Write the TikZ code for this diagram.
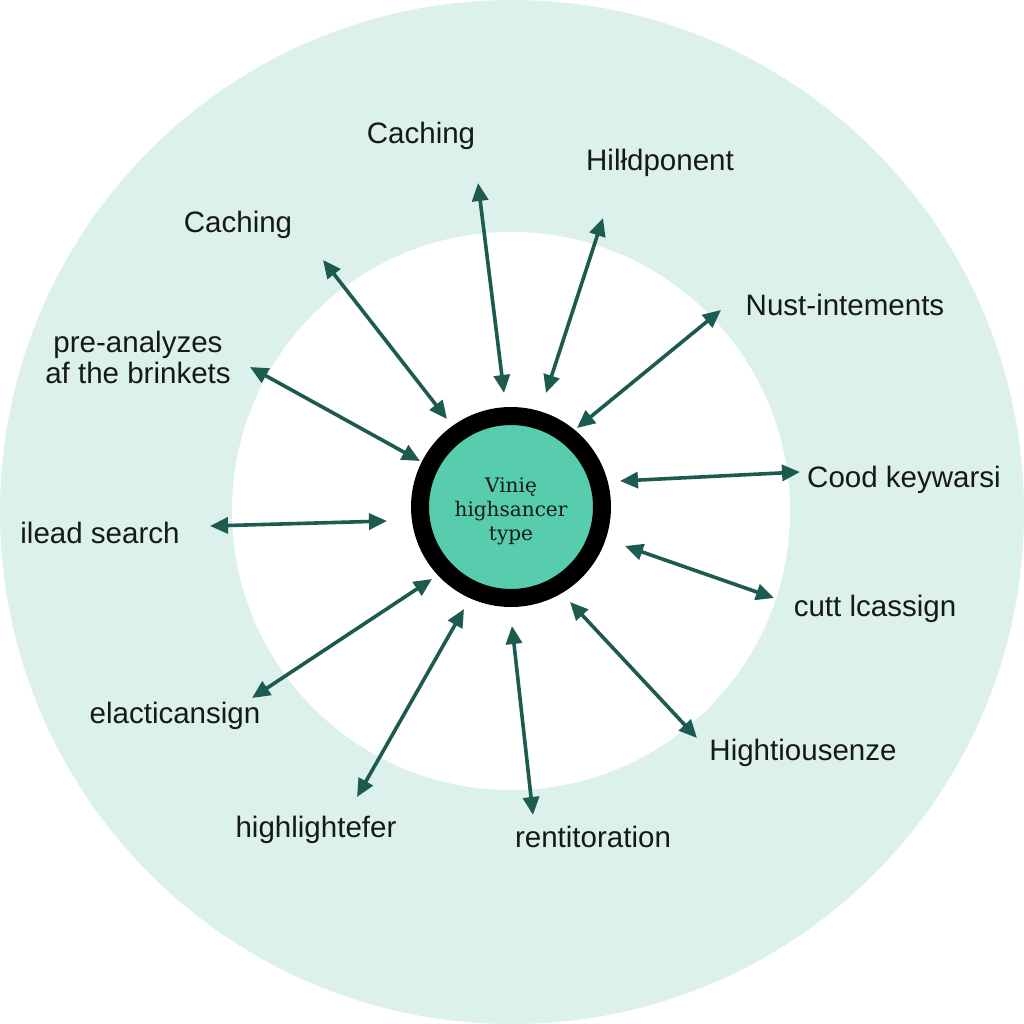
\documentclass[tikz,border=0pt]{standalone}
\usepackage{fontspec}
\setmainfont{Liberation Sans}
\newfontfamily\hubfont{DejaVu Serif}
\usetikzlibrary{arrows.meta}
\definecolor{mint}{HTML}{DCF1EC}
\definecolor{hubteal}{HTML}{58CDAE}
\definecolor{linkcol}{HTML}{1D5A50}
\definecolor{inkcol}{HTML}{151918}
\tikzset{
  lab/.style={font=\fontsize{8.4}{8.8}\selectfont, text=inkcol, align=center, inner sep=0pt},
  link/.style={{Triangle[length=1.8mm,width=1.6mm]}-{Triangle[length=1.8mm,width=1.6mm]}, line width=0.36mm, draw=linkcol},
}

\begin{document}
\begin{tikzpicture}[x=0.1mm,y=-0.1mm]
\useasboundingbox (0,0) rectangle (1024,1024);
\fill[mint] (512,512) circle (512);
\fill[white] (511,511) circle (279);
\node[circle, fill=hubteal, draw=black, line width=1.8mm, minimum size=18.2mm, inner sep=0pt] (hub) at (511,507) {};
\node[align=center, inner sep=0pt, text=inkcol, font=\hubfont\fontsize{5.7}{6.8}\selectfont] (hubtext) at (511,511) {Vinię\\highsancer\\type};

\node[lab] (cachtop) at (421,136) {Caching};
\node[lab] (hild) at (660,163) {Hilłdponent};
\node[lab] (cachleft) at (238,225) {Caching};
\node[lab] (nust) at (845,305) {Nust-intements};
\node[lab] (prean) at (138,357) {pre-analyzes\\af the brinkets};
\node[lab] (cood) at (904,480) {Cood keywarsi};
\node[lab] (ilead) at (100,533) {ilead search};
\node[lab] (cutt) at (875,609) {cutt lcassign};
\node[lab] (elac) at (175,716) {elacticansign};
\node[lab] (hight) at (803,753) {Hightiousenze};
\node[lab] (highl) at (316,830) {highlightefer};
\node[lab] (rent) at (593,837) {rentitoration};

\coordinate (o1) at (478,183);  \coordinate (i1) at (504,393);
\coordinate (o2) at (603,218);  \coordinate (i2) at (546,393);
\coordinate (o3) at (323,260);  \coordinate (i3) at (447,419);
\coordinate (o4) at (721,310);  \coordinate (i4) at (577,428);
\coordinate (o5) at (250,367);  \coordinate (i5) at (420,461);
\coordinate (o6) at (800,472);  \coordinate (i6) at (620,481);
\coordinate (o7) at (210,526);  \coordinate (i7) at (387,521);
\coordinate (o8) at (774,598);  \coordinate (i8) at (625,546);
\coordinate (o9) at (252,698);  \coordinate (i9) at (432,579);
\coordinate (o10) at (697,738); \coordinate (i10) at (570,602);
\coordinate (o11) at (357,797); \coordinate (i11) at (464,609);
\coordinate (o12) at (533,815); \coordinate (i12) at (512,626);

\draw[link] (o1) -- (i1);
\draw[link] (o2) -- (i2);
\draw[link] (o3) -- (i3);
\draw[link] (o4) -- (i4);
\draw[link] (o5) -- (i5);
\draw[link] (o6) -- (i6);
\draw[link] (o7) -- (i7);
\draw[link] (o8) -- (i8);
\draw[link] (o9) -- (i9);
\draw[link] (o10) -- (i10);
\draw[link] (o11) -- (i11);
\draw[link] (o12) -- (i12);
\end{tikzpicture}
\end{document}
